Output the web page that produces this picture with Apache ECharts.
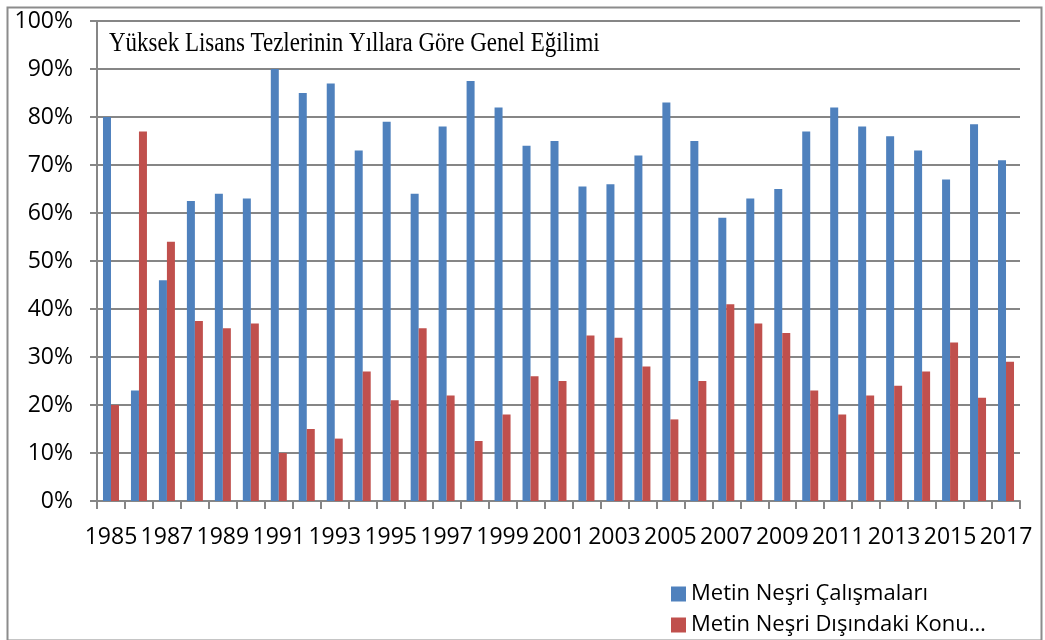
<!DOCTYPE html>
<html>
<head>
<meta charset="utf-8">
<script src="https://cdn.jsdelivr.net/npm/echarts@6/dist/echarts.min.js"></script>
<style>
  html, body { margin: 0; padding: 0; background: #fff; }
  #chart-container { width: 1045px; height: 640px; }
</style>
</head>
<body>
<div id="chart-container"></div>
<script>
var years = [];
for (var y = 1985; y <= 2017; y++) years.push(String(y));

var metinNesri = [80, 23, 46, 62.5, 64, 63, 90, 85, 87, 73, 79, 64, 78, 87.5, 82, 74, 75,
  65.5, 66, 72, 83, 75, 59, 63, 65, 77, 82, 78, 76, 73, 67, 78.5, 71];
var digerKonular = [20, 77, 54, 37.5, 36, 37, 10, 15, 13, 27, 21, 36, 22, 12.5, 18, 26, 25,
  34.5, 34, 28, 17, 25, 41, 37, 35, 23, 18, 22, 24, 27, 33, 21.5, 29];

var seriesNames = ["Metin Neşri Çalışmaları", "Metin Neşri Dışındaki Konu…"];
var titleText = "Yüksek Lisans Tezlerinin Yıllara Göre Genel Eğilimi";

var dom = document.getElementById("chart-container");
var myChart = echarts.init(dom, null, { renderer: "canvas" });

var axisGrey = "#868686";
var labelFont = "Open Sans";

// one legend per row so the two items stack
function legendRow(name, top) {
  return {
    left: 666,
    top: top,
    icon: "rect",
    itemWidth: 15,
    itemHeight: 15,
    itemGap: 8,
    textStyle: { fontFamily: labelFont, fontSize: 22, color: "#000" },
    data: [name]
  };
}

var option = {
  animation: false,
  backgroundColor: "#fff",
  grid: { left: 97, right: 25, top: 21, bottom: 139 },
  legend: [legendRow(seriesNames[0], 578), legendRow(seriesNames[1], 609)],
  graphic: [
    {
      type: "rect",
      left: 5, top: 5,
      shape: { width: 1034, height: 633 },
      style: { fill: "none", stroke: "#8c8c8c", lineWidth: 2 },
      silent: true
    },
    {
      type: "text",
      x: 109, y: 30,
      scaleX: 0.82,
      style: {
        text: titleText,
        font: "28px 'Liberation Serif'",
        fill: "#000"
      }
    }
  ],
  xAxis: {
    type: "category",
    data: years,
    boundaryGap: true,
    axisLine: { lineStyle: { color: axisGrey, width: 2 } },
    axisTick: { show: true, interval: 0, length: 8, lineStyle: { color: axisGrey, width: 2 } },
    axisLabel: {
      interval: 1,
      margin: 25,
      fontFamily: labelFont,
      fontSize: 23,
      color: "#000"
    },
    splitLine: { show: false }
  },
  yAxis: {
    type: "value",
    min: 0,
    max: 100,
    interval: 10,
    axisLine: { show: true, lineStyle: { color: axisGrey, width: 2 } },
    axisTick: { show: true, length: 7, lineStyle: { color: axisGrey, width: 2 } },
    axisLabel: {
      formatter: "{value}%",
      margin: 24,
      fontFamily: labelFont,
      fontSize: 23,
      color: "#000"
    },
    splitLine: { show: true, lineStyle: { color: axisGrey, width: 2 } }
  },
  series: [
    {
      name: seriesNames[0],
      type: "bar",
      data: metinNesri,
      barWidth: 8,
      barGap: "0%",
      itemStyle: { color: "#4F81BD" }
    },
    {
      name: seriesNames[1],
      type: "bar",
      data: digerKonular,
      barWidth: 8,
      barGap: "0%",
      itemStyle: { color: "#C0504D" }
    }
  ]
};

myChart.setOption(option);
window.addEventListener("resize", myChart.resize);
</script>
</body>
</html>
